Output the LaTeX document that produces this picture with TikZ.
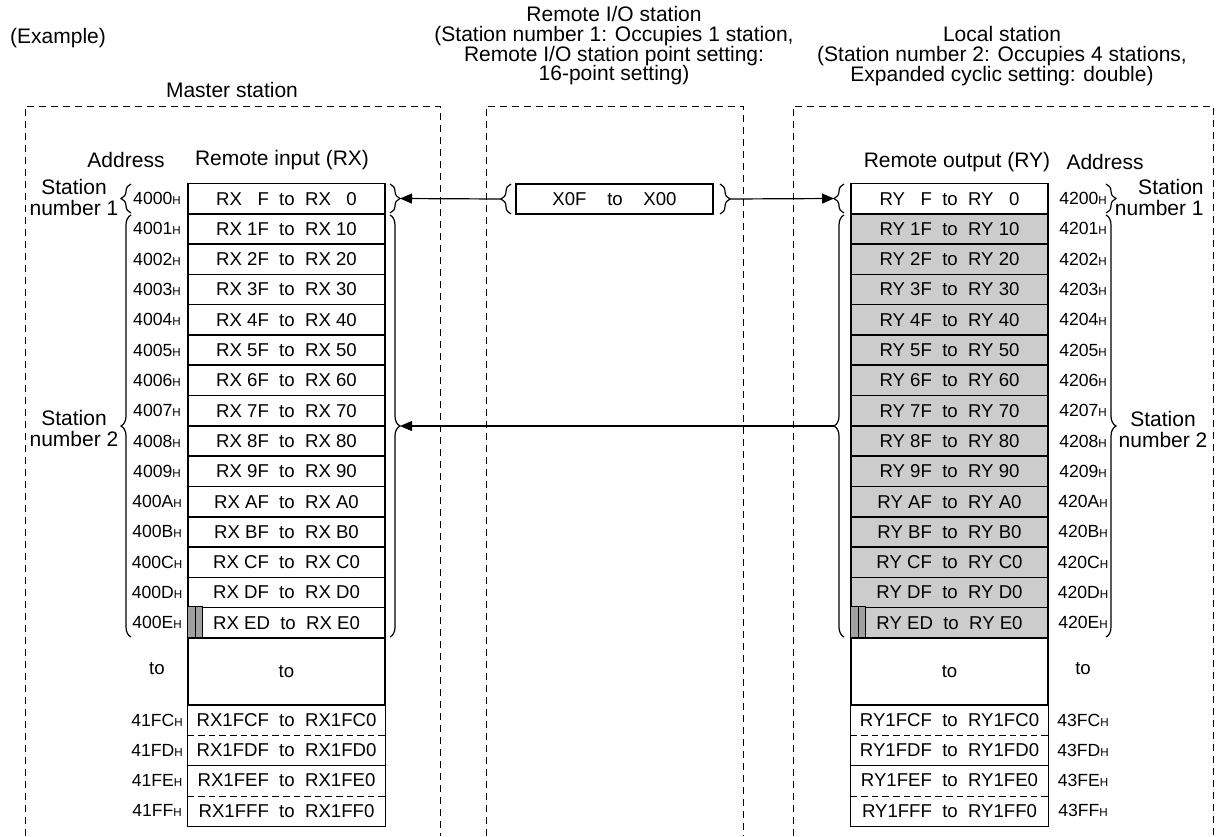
\documentclass[tikz,border=0pt]{standalone}
\usepackage{fontspec}
\setmainfont{Liberation Sans}
\usetikzlibrary{calc, positioning, arrows.meta, decorations.pathreplacing}
\definecolor{rowgray}{RGB}{204, 204, 204}
\definecolor{bargray}{RGB}{160, 160, 160}
\newcommand{\hx}[1]{#1{\fontsize{5.8}{6}\selectfont H}}

\tikzset{
  head/.style={font=\fontsize{10.5}{9.85}\selectfont, align=center, inner sep=0pt},
  stlabel/.style={font=\fontsize{10.5}{10.5}\selectfont, align=center, inner sep=0pt},
  cell/.style={draw, line width=0.8pt, minimum width=98.5pt, minimum height=15.15pt, inner sep=0pt, font=\fontsize{9.3}{10}\selectfont},
  lowcell/.style={minimum width=98.5pt, minimum height=15.1pt, inner sep=0pt, font=\fontsize{9.3}{10}\selectfont},
  addr/.style={font=\fontsize{8.8}{10}\selectfont, inner sep=0pt},
  brc/.style={decorate, decoration={brace, amplitude=5pt}, line width=0.6pt},
  stbox/.style={line width=0.4pt, dash pattern=on 3.5pt off 2.5pt},
  link/.style={line width=0.6pt, -{Triangle[length=6pt, width=5pt]}}
}

\begin{document}
\begin{tikzpicture}[x=0.5pt, y=-0.5pt]
  \useasboundingbox (0,0) rectangle (1218,836);
  % station frames, open at the bottom
  \draw[stbox] (25,836) -- (25,106) -- (440,106) -- (440,836);
  \draw[stbox] (486,836) -- (486,106) -- (743,106) -- (743,836);
  \draw[stbox] (793,836) -- (793,106) -- (1213,106) -- (1213,836);
  % titles
  \node[head] (ex) at (58,38) {(Example)};
  \node[head] (master) at (232,90) {Master station};
  \node[head] (remote) at (614,46) {Remote I/O station\\(Station number 1: Occupies 1 station,\\Remote I/O station point setting:\\16-point setting)};
  \node[head] (local) at (1002,56) {Local station\\(Station number 2: Occupies 4 stations,\\Expanded cyclic setting: double)};
  % column heads
  \node[head] (adx) at (126,160) {Address};
  \node[head] (rxhead) at (282,160) {Remote input (RX)};
  \node[head] (ryhead) at (957,162) {Remote output (RY)};
  \node[head] (ady) at (1105,162) {Address};
  % link areas
  \foreach \i/\dg/\hv/\lv/\fc in {0/0/\phantom{1}F/\phantom{1}0/white, 1/1/1F/10/rowgray, 2/2/2F/20/rowgray,
      3/3/3F/30/rowgray, 4/4/4F/40/rowgray, 5/5/5F/50/rowgray, 6/6/6F/60/rowgray,
      7/7/7F/70/rowgray, 8/8/8F/80/rowgray, 9/9/9F/90/rowgray, 10/A/AF/A0/rowgray,
      11/B/BF/B0/rowgray, 12/C/CF/C0/rowgray, 13/D/DF/D0/rowgray, 14/E/ED/E0/rowgray} {
    \node[cell] (rx\i) at (286.5,198.6+30.3*\i) {RX \hv\ \ to\ \ RX \lv};
    \node[addr] (ax\i) at (157,198.6+30.3*\i) {\hx{400\dg}};
    \node[cell, fill=\fc] (ry\i) at (949.5,198.6+30.3*\i) {RY \hv\ \ to\ \ RY \lv};
    \node[addr] (ay\i) at (1083,198.6+30.3*\i) {\hx{420\dg}};
  }
  \draw[fill=bargray, line width=0.6pt] (rx14.north west) rectangle ++(8,30.3) rectangle ++(7.5,-30.3);
  \draw[fill=bargray, line width=0.6pt] (ry14.north west) rectangle ++(8,30.3) rectangle ++(7.5,-30.3);
  \node[cell, minimum height=33.6pt] (rxto) at (286.5,671.4) {to};
  \node[cell, minimum height=33.6pt] (ryto) at (949.5,671.4) {to};
  \node[addr, font=\fontsize{9.3}{10}\selectfont] (axto) at (157,669) {to};
  \node[addr, font=\fontsize{9.3}{10}\selectfont] (ayto) at (1083,669) {to};
  \foreach \i/\hd in {0/C, 1/D, 2/E, 3/F} {
    \node[lowcell] (rxb\i) at (286.5,720.1+30.2*\i) {RX1F\hd F\ \ to\ \ RX1F\hd 0};
    \node[addr] (axb\i) at (157,720.1+30.2*\i) {\hx{41F\hd}};
    \node[lowcell] (ryb\i) at (949.5,720.1+30.2*\i) {RY1F\hd F\ \ to\ \ RY1F\hd 0};
    \node[addr] (ayb\i) at (1083,720.1+30.2*\i) {\hx{43F\hd}};
  }
  \foreach \tb in {rxb, ryb} {
    \draw[line width=0.6pt] (\tb0.north west) rectangle (\tb3.south east);
    \draw[line width=0.6pt] (\tb1.south west) -- (\tb1.south east);
    \draw[line width=0.5pt, dash pattern=on 3.3pt off 2pt] (\tb0.south west) -- (\tb0.south east) (\tb2.south west) -- (\tb2.south east);
  }
  % remote I/O points
  \node[cell, minimum height=15pt] (xio) at (614.5,199) {X0F\ \ \ \ to\ \ \ \ X00};
  % braces
  \draw[brc] (131,213) -- (131,184);
  \draw[brc] (131,637) -- (131,215);
  \draw[brc] (390,184) -- (390,213);
  \draw[brc] (390,215) -- (390,637);
  \draw[brc] (511,214) -- (511,184);
  \draw[brc] (720,184) -- (720,214);
  \draw[brc] (844,213) -- (844,184);
  \draw[brc] (844,637) -- (844,215);
  \draw[brc] (1106,184) -- (1106,213);
  \draw[brc] (1106,215) -- (1106,637);
  \node[stlabel] (xst1) at (74,197.5) {Station\\number 1};
  \node[stlabel] (xst2) at (74,428) {Station\\number 2};
  \node[stlabel, align=right, anchor=east] (yst1) at (1204,197) {Station\\number 1};
  \node[stlabel] (yst2) at (1163,429) {Station\\number 2};
  % brace tips and transfers
  \coordinate (xr1) at (400,198.5);
  \coordinate (xr2) at (400,426);
  \coordinate (iol) at (501,199);
  \coordinate (ior) at (730,199);
  \coordinate (yl1) at (834,198.5);
  \coordinate (yl2) at (834,426);
  \draw[link] (iol) -- (xr1);
  \draw[link] (ior) -- (yl1);
  \draw[link] (yl2) -- (xr2);
\end{tikzpicture}
\end{document}
